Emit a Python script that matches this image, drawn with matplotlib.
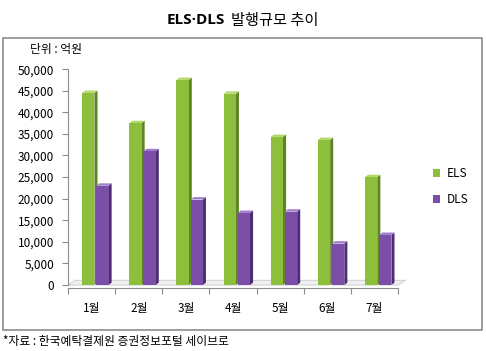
import matplotlib
matplotlib.use("Agg")
import matplotlib.pyplot as plt
from matplotlib.patches import Rectangle, Polygon
import numpy as np

plt.rcParams['font.family'] = ['Noto Sans CJK KR', 'DejaVu Sans']

months = ["1월", "2월", "3월", "4월", "5월", "6월", "7월"]
els = [44500, 37500, 47500, 44300, 34300, 33600, 25000]
dls = [23000, 31000, 19800, 16700, 17000, 9600, 11600]
yticks = list(range(0, 50001, 5000))

series = [
    ("ELS", els, "#8dbf3c", "#5f8423", "#b5d86a", -0.07),
    ("DLS", dls, "#7b4ea8", "#4e2d75", "#a07ccc", 0.23),
]

fig = plt.figure(figsize=(4.86, 3.51), dpi=100)
fig.patch.set_facecolor("white")

# outer frame
fig.add_artist(Rectangle((0.006, 0.06), 0.986, 0.832, transform=fig.transFigure,
                         fill=False, edgecolor="#8c8c8c", linewidth=1.2))

ax = fig.add_axes([0.140, 0.188, 0.679, 0.615])
ax.set_xlim(0, len(months))
ax.set_ylim(0, 50000)

x = np.arange(len(months)) + 0.5
w = 0.26
dx = 0.065     # depth in category units
dy = 550       # depth in data units

# floor
ax.add_patch(Polygon([[0, 0], [dx * 2.4, dy * 2.0], [len(months) + dx * 2.4, dy * 2.0],
                      [len(months), 0]], closed=True, facecolor="#f0f0f0",
                     edgecolor="#c8c8c8", linewidth=0.6, zorder=1, clip_on=False))

for name, vals, front, side, top, off in series:
    for xi, v in zip(x, vals):
        left = xi + off - w / 2
        # side face
        ax.add_patch(Polygon([[left + w, 0], [left + w + dx, dy], [left + w + dx, v + dy],
                              [left + w, v]], closed=True, facecolor=side,
                             edgecolor="none", zorder=3))
        # top face
        ax.add_patch(Polygon([[left, v], [left + dx, v + dy], [left + w + dx, v + dy],
                              [left + w, v]], closed=True, facecolor=top,
                             edgecolor="none", zorder=3))
    ax.bar(x + off, vals, width=w, color=front, zorder=4, linewidth=0, label=name)

for s in ["top", "right"]:
    ax.spines[s].set_visible(False)
for s in ["left", "bottom"]:
    ax.spines[s].set_color("#8c8c8c")
    ax.spines[s].set_linewidth(0.8)
ax.spines["bottom"].set_position(("data", -700))

ax.set_yticks(yticks)
ax.set_yticklabels([f"{t:,}" for t in yticks], fontsize=8.5)
ax.set_xticks(np.arange(len(months) + 1))
ax.set_xticklabels([])
ax.set_xticks(x, minor=True)
ax.set_xticklabels(months, minor=True, fontsize=8.5)
ax.tick_params(axis="x", which="minor", length=0, pad=10)
ax.tick_params(axis="x", which="major", length=4, color="#8c8c8c")
ax.tick_params(axis="y", length=4, color="#8c8c8c", pad=6)

leg = ax.legend(loc="center left", bbox_to_anchor=(1.075, 0.455), frameon=False,
                fontsize=8.5, handlelength=0.6, handleheight=0.6, labelspacing=1.1,
                handletextpad=0.5)

fig.text(0.462, 0.943, "ELS·DLS", ha="right", va="center", fontsize=11, fontweight="bold",
         family=["Open Sans", "DejaVu Sans"])
fig.text(0.475, 0.943, "발행규모 추이", ha="left", va="center", fontsize=11)
fig.text(0.062, 0.858, "단위 : 억원", ha="left", va="center", fontsize=8.5)
fig.text(0.006, 0.028, "*자료 : 한국예탁결제원 증권정보포털 세이브로", ha="left", va="center",
         fontsize=8.5)

fig.savefig("out.png", dpi=100)
